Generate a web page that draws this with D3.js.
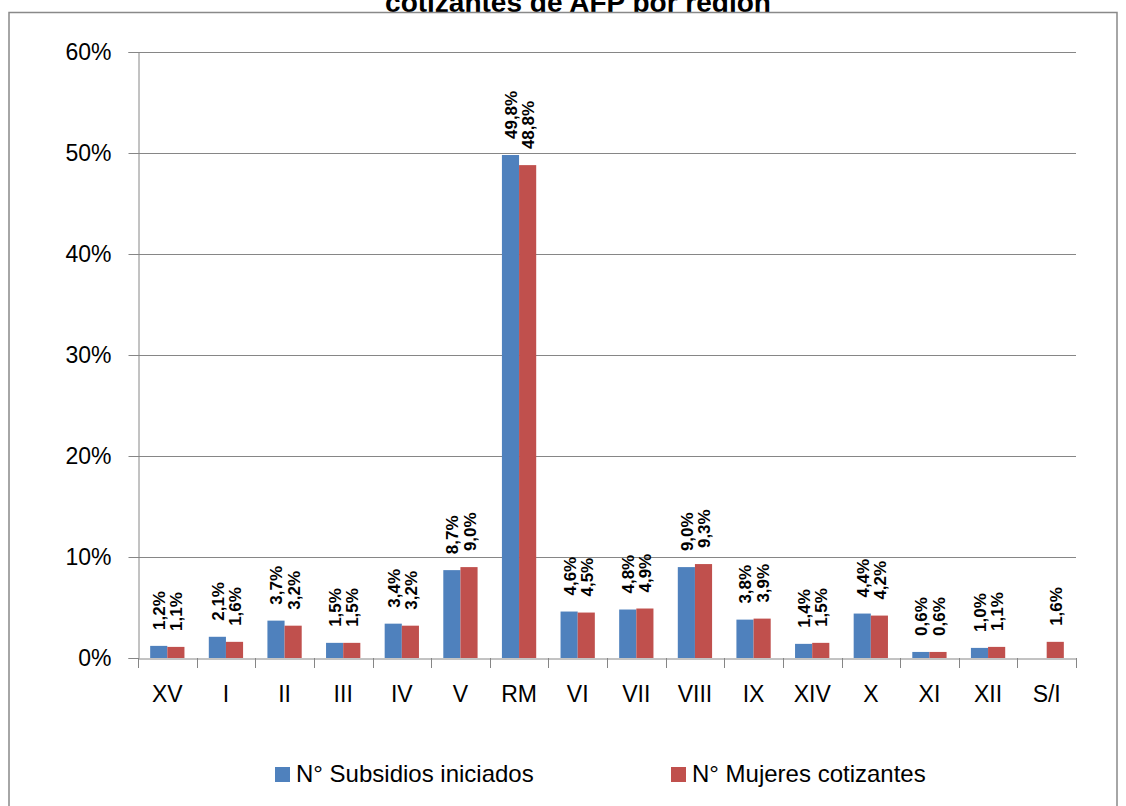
<!DOCTYPE html>
<html><head><meta charset="utf-8">
<script src="https://cdn.jsdelivr.net/npm/d3@7"></script>
<style>body{margin:0;background:#fff;} svg{display:block;font-family:"Liberation Sans",Arial,sans-serif;}</style>
</head><body>
<svg id="c" width="1126" height="806"></svg>
<script>
const categories = ["XV","I","II","III","IV","V","RM","VI","VII","VIII","IX","XIV","X","XI","XII","S/I"];
const subsidios = [1.2,2.1,3.7,1.5,3.4,8.7,49.8,4.6,4.8,9.0,3.8,1.4,4.4,0.6,1.0,null];
const mujeres = [1.1,1.6,3.2,1.5,3.2,9.0,48.8,4.5,4.9,9.3,3.9,1.5,4.2,0.6,1.1,1.6];
const seriesNames = ["N° Subsidios iniciados","N° Mujeres cotizantes"];
const colors = ["#4f81bd","#c0504d"];
const yTicks = [0,10,20,30,40,50,60];
const title = "cotizantes de AFP por región";

const svg = d3.select("#c");
const m = {l:138, r:1076, t:52, b:658};
const FF = "Liberation Sans, Arial, sans-serif";

svg.append("defs").append("clipPath").attr("id","tc").append("rect")
  .attr("x",0).attr("y",0).attr("width",1126).attr("height",12);
svg.append("text").attr("x",578).attr("y",12).attr("text-anchor","middle")
  .attr("clip-path","url(#tc)")
  .attr("font-weight","bold").attr("font-size",28).text(title);
svg.append("rect").attr("x",9).attr("y",12.5).attr("width",1108).attr("height",820)
  .attr("fill","none").attr("stroke","#898989").attr("stroke-width",1.5);

const x = d3.scaleBand().domain(categories).range([m.l,m.r]).paddingInner(0).paddingOuter(0);
const x1 = d3.scaleBand().domain([0,1]).range([0,x.bandwidth()]).paddingInner(0).paddingOuter(0.71);
const y = d3.scaleLinear().domain([0,60]).range([m.b,m.t]);

// gridlines
svg.append("g").selectAll("line").data(yTicks.slice(1)).join("line")
  .attr("x1",m.l).attr("x2",m.r).attr("y1",d=>Math.round(y(d))+0.5).attr("y2",d=>Math.round(y(d))+0.5)
  .attr("stroke","#868686").attr("stroke-width",1);

// y axis
const ya = svg.append("g").attr("transform",`translate(${m.l+0.5},0)`)
  .call(d3.axisLeft(y).tickValues(yTicks).tickFormat(d=>d+"%").tickSize(10).tickPadding(17));
ya.select(".domain").attr("stroke","#868686");
ya.selectAll(".tick line").attr("stroke","#868686");
ya.selectAll("text").attr("font-size",23).attr("fill","#000").attr("font-family",FF);

// x axis
const xa = svg.append("g").attr("transform",`translate(0,${m.b+0.5})`)
  .call(d3.axisBottom(x).tickSize(0).tickPadding(27));
xa.select(".domain").attr("stroke","#868686");
xa.selectAll("text").attr("font-size",23).attr("fill","#000").attr("font-family",FF);
svg.append("g").selectAll("line").data(d3.range(categories.length+1)).join("line")
  .attr("x1",i=>Math.round(m.l+i*x.bandwidth())+0.5).attr("x2",i=>Math.round(m.l+i*x.bandwidth())+0.5)
  .attr("y1",m.b).attr("y2",m.b+10).attr("stroke","#868686");

const fmt = v => v.toFixed(1).replace(".",",")+"%";
const series = [subsidios, mujeres];
series.forEach((vals,s)=>{
  const g = svg.append("g");
  const data = categories.map((c,i)=>({c,v:vals[i]})).filter(d=>d.v!=null);
  g.selectAll("rect").data(data).join("rect")
    .attr("x",d=>x(d.c)+x1(s)).attr("width",x1.bandwidth())
    .attr("y",d=>y(d.v)).attr("height",d=>y(0)-y(d.v))
    .attr("fill",colors[s]);
  g.selectAll("text").data(data).join("text")
    .attr("transform",d=>`translate(${x(d.c)+x1(s)+x1.bandwidth()/2+6.5},${y(d.v)-16}) rotate(-90)`)
    .attr("font-size",17).attr("font-weight","bold").text(d=>fmt(d.v));
});

// legend
const lg = svg.append("g");
const lx = [275,671];
seriesNames.forEach((n,i)=>{
  lg.append("rect").attr("x",lx[i]).attr("y",767).attr("width",15).attr("height",15).attr("fill",colors[i]);
  lg.append("text").attr("x",lx[i]+21).attr("y",782).attr("font-size",24).text(n);
});
</script>
</body></html>
